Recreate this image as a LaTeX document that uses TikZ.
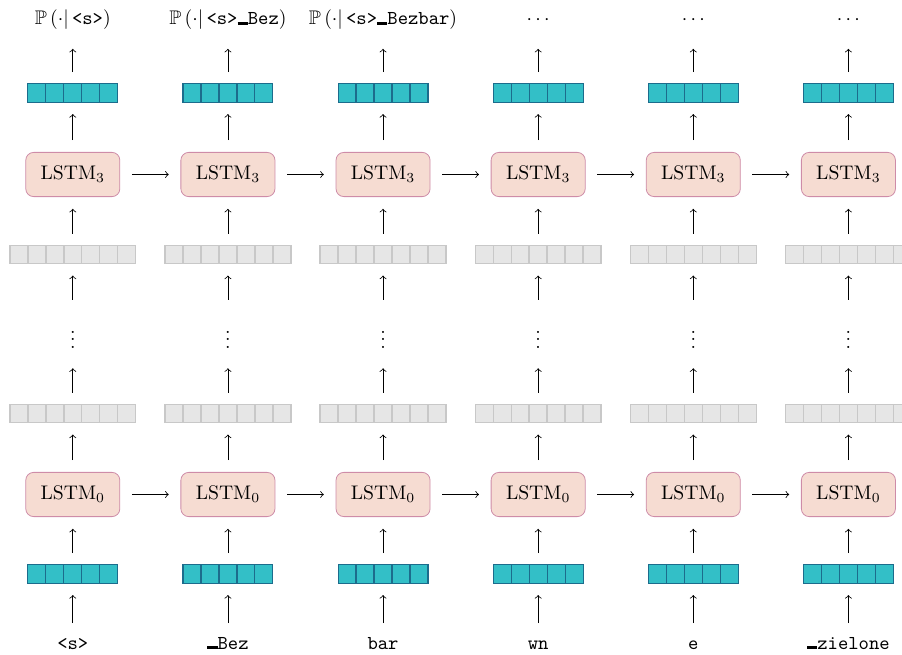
\documentclass[tikz,border=0pt]{standalone}
\usepackage{amssymb}
\usetikzlibrary{calc}

\definecolor{lstmfill}{RGB}{246,220,210}
\definecolor{lstmline}{RGB}{206,140,168}
\definecolor{embfill}{RGB}{51,191,199}
\definecolor{embline}{RGB}{28,108,140}
\definecolor{hidfill}{RGB}{230,230,230}
\definecolor{hidline}{RGB}{200,200,200}

% word boundary marker of the tokenizer
\newcommand{\wordsep}{\rule{0.525em}{1.3pt}}

\tikzset{
	lstm/.style={draw=lstmline, fill=lstmfill, rounded corners=4pt, minimum width=1.68cm, minimum height=0.79cm, inner sep=0pt},
	embvec/.style={draw=embline, fill=embfill, line width=0.6pt, minimum width=1.605cm, minimum height=0.33cm, inner sep=0pt, outer sep=0pt},
	hidvec/.style={draw=hidline, fill=hidfill, line width=0.7pt, minimum width=2.247cm, minimum height=0.33cm, inner sep=0pt, outer sep=0pt},
	word/.style={inner sep=0pt, text height=7pt, text depth=2.5pt, anchor=base},
	flow/.style={->, shorten <=0.21cm, shorten >=0.21cm},
}

\begin{document}
\begin{tikzpicture}[]

	% fixed frame, the last column runs off the right edge
	\useasboundingbox (0,0) rectangle (16.107,-11.679);

	\foreach \tok/\out [count=\i] in {
		{<s>}/{$\mathbb{P}\left(\cdot\middle|\,\texttt{<s>}\right)$},
		{\wordsep Bez}/{$\mathbb{P}\left(\cdot\middle|\,\texttt{<s>\wordsep Bez}\right)$},
		{bar}/{$\mathbb{P}\left(\cdot\middle|\,\texttt{<s>\wordsep Bezbar}\right)$},
		{wn}/{$\cdots$},
		{e}/{$\cdots$},
		{\wordsep zielone}/{$\cdots$}} {
		\begin{scope}[shift={({2.77*(\i-1)},0)}]
			% input token and its embedding
			\node[word] (w\i) at (1.30,-11.59) {\texttt{\tok}};
			\node[embvec] (e\i) at (1.30,-10.25) {};
			% bottom layer
			\node[lstm] (b\i) at (1.30,-8.83) {LSTM$_0$};
			\node[hidvec] (h\i) at (1.30,-7.384) {};
			\node[inner sep=0pt] (d\i) at (1.30,-5.964) {$\vdots$};
			\node[hidvec] (g\i) at (1.30,-4.545) {};
			% top layer and output distribution
			\node[lstm] (t\i) at (1.30,-3.116) {LSTM$_3$};
			\node[embvec] (o\i) at (1.30,-1.661) {};
			\node[word] (p\i) at (1.30,-0.446) {\out};

			% cell borders
			\foreach \k in {1,...,4} {
				\draw[embline, line width=0.6pt] ($(e\i.south west)+(\k*0.321,0)$) -- ($(e\i.north west)+(\k*0.321,0)$);
				\draw[embline, line width=0.6pt] ($(o\i.south west)+(\k*0.321,0)$) -- ($(o\i.north west)+(\k*0.321,0)$);
			}
			\foreach \k in {1,...,6} {
				\draw[hidline, line width=0.7pt] ($(h\i.south west)+(\k*0.321,0)$) -- ($(h\i.north west)+(\k*0.321,0)$);
				\draw[hidline, line width=0.7pt] ($(g\i.south west)+(\k*0.321,0)$) -- ($(g\i.north west)+(\k*0.321,0)$);
			}

			% upward connections
			\draw[flow] (w\i) -- (e\i);
			\draw[flow] (e\i) -- (b\i);
			\draw[flow] (b\i) -- (h\i);
			\draw[flow, shorten >=0.34cm] (h\i) -- (d\i);
			\draw[flow, shorten <=0.34cm] (d\i) -- (g\i);
			\draw[flow] (g\i) -- (t\i);
			\draw[flow] (t\i) -- (o\i);
			\draw[flow, shorten >=0.33cm] (o\i) -- (p\i);
		\end{scope}
	}

	% recurrent connections
	\foreach \i [count=\j from 2] in {1,...,5} {
		\draw[flow] (b\i) -- (b\j);
		\draw[flow] (t\i) -- (t\j);
	}

\end{tikzpicture}
\end{document}
